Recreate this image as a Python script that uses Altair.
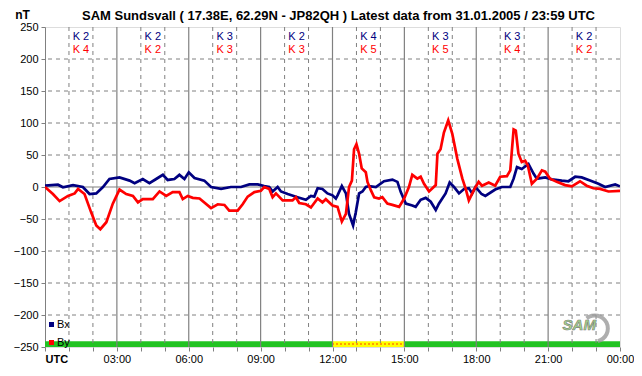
import altair as alt
import pandas as pd

# ---------------- data ----------------
bx_hours = [0, 0.54, 0.75, 1.17, 1.58, 1.86, 2.14, 2.42, 2.69, 3.11, 3.53, 3.74, 4.08, 4.36, 4.64, 4.92,
            5.12, 5.40, 5.61, 5.82, 6.0, 6.24, 6.65, 6.93, 7.35, 7.76, 8.18, 8.53, 8.88, 9.15, 9.36, 9.5,
            9.71, 9.85, 10.13, 10.54, 10.89, 11.10, 11.24, 11.38, 11.58, 11.79, 12.0, 12.14, 12.21, 12.39,
            12.56, 12.69, 12.86, 12.97, 13.11, 13.25, 13.39, 13.53, 13.81, 14.15, 14.5, 14.71, 14.85, 15.06,
            15.33, 15.47, 15.68, 15.89, 16.10, 16.31, 16.44, 16.72, 16.89, 17.07, 17.28, 17.49, 17.69, 17.83,
            17.97, 18.22, 18.38, 18.79, 19.07, 19.42, 19.56, 19.7, 19.9, 20.18, 20.39, 20.53, 20.88, 21.15,
            21.57, 21.85, 22.13, 22.4, 22.75, 23.1, 23.38, 23.8, 24.0]
bx_values = [2, 3.6, -0.5, 3, 0, -11, -10, 0, 12.5, 15, 10, 6, 12.5, 6, 12.5, 19,
             11, 12.5, 19, 12.5, 23, 14, 10, 0, -3, 0, 0, 4, 4, 1.5, 0, -7,
             0, -7, -11, -16, -20, -14, -15, -2, -3, -10, -13, -18, -13, 1.5,
             -10, -42, -60, -40, -10, -7, 0, 1.5, 0, 9, 11.5, 8, -8, -26,
             -29, -31, -20, -17, -23, -36, -26, -10, 7, 0, -10, -3, -2, -10,
             0, -11, -14, -4, 0, 0, 13, 31, 28, 36, 21, 13, 15, 12,
             10, 9, 16, 15, 10, 5, 0, 4, 1]

by_hours = [0, 0.33, 0.61, 0.96, 1.24, 1.38, 1.65, 1.93, 2.14, 2.31, 2.56, 2.83, 3.11, 3.39, 3.67,
            3.88, 4.08, 4.5, 4.78, 5.06, 5.33, 5.61, 5.75, 5.96, 6.17, 6.45, 6.93, 7.21, 7.49, 7.69,
            8.04, 8.25, 8.46, 8.74, 9.01, 9.15, 9.36, 9.5, 9.64, 9.92, 10.33, 10.47, 10.61, 10.89, 11.10,
            11.38, 11.58, 11.72, 12.0, 12.21, 12.39, 12.56, 12.69, 12.81, 12.90, 13.0, 13.11, 13.22, 13.39,
            13.46, 13.6, 13.74, 13.94, 14.08, 14.29, 14.5, 14.78, 14.99, 15.19, 15.33, 15.54, 15.68, 15.82,
            16.03, 16.17, 16.31, 16.38, 16.51, 16.65, 16.83, 17.0, 17.21, 17.42, 17.56, 17.69, 17.9, 18.1,
            18.24, 18.52, 18.79, 19.0, 19.28, 19.42, 19.52, 19.56, 19.65, 19.76, 19.9, 20.04, 20.15, 20.32,
            20.53, 20.74, 20.88, 21.08, 21.36, 21.71, 21.99, 22.33, 22.61, 22.89, 23.17, 23.52, 24.0]
by_values = [0, -11, -22, -14, -10, -3, -11, -40, -60, -66, -55, -26, -4, -11, -14,
             -24, -19, -19, -7, -14, -8, -8, -19, -14, -17, -18, -33, -27, -28, -37,
             -37, -27, -15, -8, -6, 0, -3, -16, -10, -21, -21, -16, -25, -27, -32,
             -18, -24, -19, -29, -31, -54, -42, 0, 10, 59, 67, 52, 29, 23,
             8, -5, -16, -18, -16, -26, -28, -31, -18, 0, 19, 13, 16, 5,
             -7, -2, 3, 52, 59, 85, 104, 83, 44, 13, -3, -21, -5, 8,
             2, 7, 2, 16, 17, 26, 72, 90, 88, 52, 39, 41, 34, 5,
             13, 26, 24, 13, 8, 3, 1, 9, 2, -2, -3, -7, -6]

k_centers = [1.5, 4.5, 7.5, 10.5, 13.5, 16.5, 19.5, 22.5]
k_bx = ["K 2", "K 2", "K 3", "K 2", "K 4", "K 3", "K 3", "K 2"]
k_by = ["K 4", "K 2", "K 3", "K 3", "K 5", "K 5", "K 4", "K 2"]
k_bx_level = 235
k_by_level = 214

status_start = [0, 12, 15]
status_end = [12, 15, 24]
status_color = ["#22c322", "#ffff00", "#22c322"]
status_low, status_high = -250, -241

h_dashed = [-200, -150, -100, -50, 50, 100, 150, 200]
h_solid = [0]
v_dashed = [h for h in range(1, 24) if h % 3 != 0]
v_solid = [3, 6, 9, 12, 15, 18, 21]

title_text = "SAM Sundsvall ( 17.38E, 62.29N - JP82QH ) Latest data from 31.01.2005 / 23:59 UTC"
title_pos = (12.25, 261)
logo_text_pos = (22.3, -216)
logo_arc_pos = (22.95, -221)

FONT = "Liberation Sans"
GRID = "#808080"

# ---------------- scales & axes ----------------
xs = alt.Scale(domain=[0, 24], nice=False, zero=False)
ys = alt.Scale(domain=[-250, 250], nice=False, zero=False)

x_label_expr = ("datum.value == 0 ? 'UTC' : (datum.value % 3 != 0 ? '' : "
                "((datum.value % 24) < 10 ? '0' : '') + (datum.value % 24) + ':00')")
XA = alt.Axis(values=list(range(0, 25)), labelExpr=x_label_expr, labelOverlap=False,
              grid=False, domain=False, tickColor=GRID, tickSize=4, title=None,
              labelFont=FONT, labelFontSize=11, labelColor="#000000", labelPadding=2,
              labelFontWeight={"condition": {"test": "datum.value == 0", "value": "bold"},
                               "value": "normal"},
              labelAlign={"condition": {"test": "datum.value == 0", "value": "left"},
                          "value": "center"})
YA = alt.Axis(values=list(range(-250, 251, 50)), grid=False, domainColor=GRID,
              tickColor=GRID, tickSize=4, labelFont=FONT, labelFontSize=11,
              labelColor="#000000", labelPadding=3, title="nT", titleAngle=0,
              titleX=-23, titleY=-9, titleAlign="center", titleBaseline="alphabetic",
              titleFont=FONT, titleFontSize=12, titleFontWeight="bold")


def X(field):
    return alt.X(field, scale=xs, axis=XA, title=None)


def Y(field):
    return alt.Y(field, scale=ys, axis=YA, title="nT")


line_df = pd.DataFrame(
    {"t": bx_hours + by_hours,
     "v": bx_values + by_values,
     "series": ["Bx"] * len(bx_hours) + ["By"] * len(by_hours)}
)

status_df = pd.DataFrame({"a": status_start, "b": status_end, "c": status_color,
                          "lo": [status_low] * 3, "hi": [status_high] * 3})
status = alt.Chart(status_df).mark_rect().encode(
    x=X("a:Q"), x2="b:Q", y=Y("lo:Q"), y2="hi:Q",
    color=alt.Color("c:N", scale=None),
)
dots = alt.Chart(pd.DataFrame({"a": [12], "b": [15], "y": [(status_low + status_high) / 2]})).mark_rule(
    color="#ff0000", strokeDash=[1, 3], strokeWidth=1.5
).encode(x=X("a:Q"), x2="b:Q", y=Y("y:Q"))

hd = alt.Chart(pd.DataFrame({"v": h_dashed})).mark_rule(color=GRID, strokeDash=[4, 4], strokeWidth=1).encode(
    y=Y("v:Q"))
hs = alt.Chart(pd.DataFrame({"v": h_solid})).mark_rule(color=GRID, strokeWidth=1.2).encode(y=Y("v:Q"))
vd = alt.Chart(pd.DataFrame({"t": v_dashed})).mark_rule(color=GRID, strokeDash=[4, 4], strokeWidth=1).encode(
    x=X("t:Q"))
vs = alt.Chart(pd.DataFrame({"t": v_solid})).mark_rule(color=GRID, strokeWidth=1.2).encode(x=X("t:Q"))

lines = alt.Chart(line_df).mark_line(strokeWidth=2.7, interpolate="linear", clip=True).encode(
    x=X("t:Q"),
    y=Y("v:Q"),
    color=alt.Color("series:N", scale=alt.Scale(domain=["Bx", "By"], range=["#000080", "#ff0000"]),
                    legend=alt.Legend(orient="none", legendX=1, legendY=292, title=None,
                                      symbolType="square", symbolSize=4, symbolStrokeWidth=3,
                                      labelFont=FONT, labelFontSize=11, labelColor="#000000",
                                      rowPadding=3, labelOffset=0, padding=0)),
    order="series:N",
)

kdf = pd.DataFrame({"t": k_centers * 2, "v": [k_bx_level] * 8 + [k_by_level] * 8,
                    "txt": k_bx + k_by, "c": ["#000080"] * 8 + ["#ff0000"] * 8})
ktext = alt.Chart(kdf).mark_text(font=FONT, fontSize=11, baseline="middle").encode(
    x=X("t:Q"), y=Y("v:Q"), text="txt:N", color=alt.Color("c:N", scale=None))

swoosh = alt.Chart(pd.DataFrame({"t": [logo_arc_pos[0]], "v": [logo_arc_pos[1]]})).mark_arc(
    theta=5.6, theta2=9.2, radius=15, radius2=11, color="#9a9a9a", opacity=0.8
).encode(x=X("t:Q"), y=Y("v:Q"))

logo = alt.Chart(pd.DataFrame({"t": [logo_text_pos[0]], "v": [logo_text_pos[1]], "txt": ["SAM"]})).mark_text(
    font=FONT, fontSize=15, fontStyle="italic", fontWeight="bold", fill="#a6d88a",
    stroke="#7a7a7a", strokeWidth=0.6, baseline="middle"
).encode(x=X("t:Q"), y=Y("v:Q"), text="txt:N")

title = alt.Chart(pd.DataFrame({"t": [title_pos[0]], "v": [title_pos[1]], "txt": [title_text]})).mark_text(
    font=FONT, fontSize=13, fontWeight="bold", color="#000000", baseline="alphabetic", clip=False
).encode(x=X("t:Q"), y=Y("v:Q"), text="txt:N")

chart = alt.layer(status, dots, hd, hs, vd, vs, lines, ktext, swoosh, logo, title).properties(
    width=575, height=320,
    autosize=alt.AutoSizeParams(type="none"),
    padding={"left": 37, "top": 19, "right": 14, "bottom": 21},
).configure_view(stroke=GRID, strokeWidth=1.2).configure(background="#ffffff")

chart.save("out.html", embed_options={"renderer": "svg", "actions": False})
